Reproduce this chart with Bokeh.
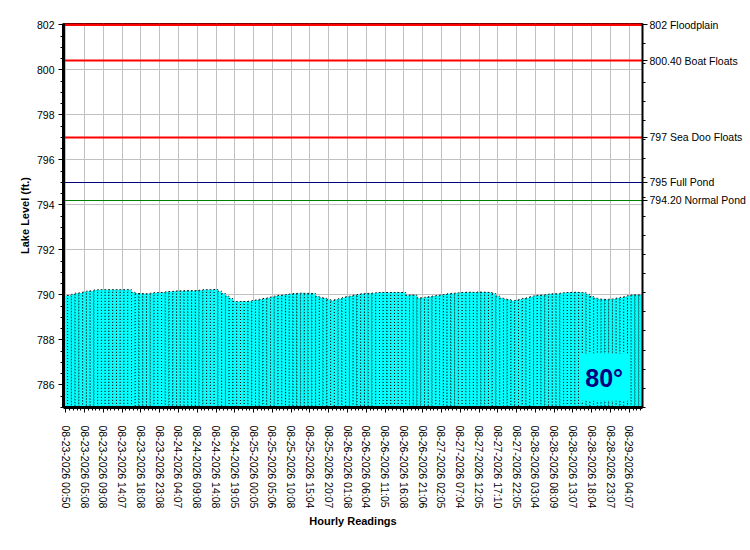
from bokeh.plotting import figure
from bokeh.models import (ColumnDataSource, Range1d, LinearAxis, FixedTicker,
                          BoxAnnotation, Label)
from bokeh.embed import file_html
from bokeh.resources import INLINE

# ---------------- data ----------------
tick_labels = [
    "08-23-2026 00:50", "08-23-2026 05:08", "08-23-2026 09:08", "08-23-2026 14:07",
    "08-23-2026 18:08", "08-23-2026 23:08", "08-24-2026 04:07", "08-24-2026 09:08",
    "08-24-2026 14:08", "08-24-2026 19:05", "08-25-2026 00:05", "08-25-2026 05:06",
    "08-25-2026 10:08", "08-25-2026 15:04", "08-25-2026 20:07", "08-26-2026 01:08",
    "08-26-2026 06:04", "08-26-2026 11:05", "08-26-2026 16:08", "08-26-2026 21:06",
    "08-27-2026 02:05", "08-27-2026 07:04", "08-27-2026 12:05", "08-27-2026 17:10",
    "08-27-2026 22:05", "08-28-2026 03:04", "08-28-2026 08:09", "08-28-2026 13:07",
    "08-28-2026 18:04", "08-28-2026 23:07", "08-29-2026 04:07",
]
label_every = 5

lake_levels = [
    789.97, 789.98, 790.03, 790.08, 790.09, 790.13, 790.17, 790.18, 790.22, 790.23,
    790.23, 790.23, 790.23, 790.23, 790.23, 790.23, 790.23, 790.23, 790.12, 790.06,
    790.06, 790.05, 790.05, 790.08, 790.10, 790.10, 790.11, 790.14, 790.15, 790.16,
    790.18, 790.18, 790.19, 790.19, 790.19, 790.20, 790.21, 790.23, 790.23, 790.23,
    790.24, 790.17, 790.06, 789.95, 789.84, 789.71, 789.70, 789.71, 789.71, 789.72,
    789.75, 789.78, 789.81, 789.84, 789.87, 789.91, 789.95, 789.98, 789.99, 790.02,
    790.04, 790.06, 790.07, 790.08, 790.07, 790.07, 790.06, 789.94, 789.88, 789.85,
    789.79, 789.74, 789.79, 789.83, 789.88, 789.92, 789.95, 789.99, 790.02, 790.05,
    790.07, 790.07, 790.08, 790.10, 790.11, 790.11, 790.11, 790.11, 790.11, 790.11,
    790.11, 789.98, 790.00, 789.99, 789.87, 789.87, 789.90, 789.92, 789.95, 789.97,
    790.00, 790.02, 790.05, 790.07, 790.08, 790.10, 790.11, 790.12, 790.12, 790.11,
    790.13, 790.12, 790.12, 790.11, 790.06, 789.95, 789.86, 789.82, 789.79, 789.74,
    789.76, 789.80, 789.84, 789.87, 789.92, 789.96, 789.98, 789.99, 790.01, 790.04,
    790.05, 790.05, 790.08, 790.10, 790.11, 790.11, 790.12, 790.11, 790.10, 790.03,
    789.93, 789.86, 789.82, 789.81, 789.80, 789.81, 789.82, 789.86, 789.89, 789.92,
    789.97, 790.00, 790.00, 790.00,
]

ref_levels = [802, 800.4, 797, 795, 794.2]
ref_names = ["802 Floodplain", "800.40 Boat Floats", "797 Sea Doo Floats",
             "795 Full Pond", "794.20 Normal Pond"]
temperature = "80°"

y_min, y_max = 785, 802
y_ticks = [786, 788, 790, 792, 794, 796, 798, 800, 802]

# ---------------- figure ----------------
n = len(lake_levels)
idx = list(range(n))

p = figure(width=750, height=550, output_backend="svg", toolbar_location=None,
           x_range=Range1d(-0.6, n - 0.5), y_range=Range1d(y_min, y_max + 0.06),
           min_border_left=63, min_border_right=108, min_border_top=23,
           min_border_bottom=143, background_fill_color="white",
           border_fill_color="white", outline_line_color="black",
           outline_line_width=1)

FONT = "Liberation Sans"

src = ColumnDataSource(dict(x=idx, top=lake_levels))
p.vbar(x="x", top="top", bottom=y_min, width=1.0, source=src,
       fill_color="#00FFFF", line_color="black", line_dash="1 2",
       line_width=1)

line_colors = ["#FF0000", "#FF0000", "#FF0000", "#000080", "#008000"]
line_widths = [3, 2, 2, 1, 1]
lsrc = ColumnDataSource(dict(y=ref_levels, c=line_colors, w=line_widths))
p.hspan(y="y", line_color="c", line_width="w", source=lsrc)

# x axis
xt = [i * label_every for i in range(len(tick_labels))]
p.xaxis.ticker = FixedTicker(ticks=xt, minor_ticks=idx)
p.xaxis.major_label_overrides = {t: lab for t, lab in zip(xt, tick_labels)}
p.xaxis.major_label_orientation = "vertical"
p.xaxis.axis_label = "Hourly Readings"

# y axis
p.yaxis.ticker = FixedTicker(ticks=y_ticks,
                             minor_ticks=[y_min + 0.5 * k for k in range(int((y_max - y_min) * 2) + 1)])
p.yaxis.axis_label = "Lake Level (ft.)"

for ax in (p.xaxis[0], p.yaxis[0]):
    ax.axis_line_color = "black"
    ax.axis_line_width = 3
    ax.major_tick_in = 0
    ax.major_tick_out = 5
    ax.minor_tick_in = 0
    ax.minor_tick_out = 3
    ax.major_tick_line_color = "black"
    ax.minor_tick_line_color = "black"
    ax.major_label_text_font = FONT
    ax.major_label_text_font_size = "10.5px"
    ax.major_label_text_color = "black"
    ax.axis_label_text_font = FONT
    ax.axis_label_text_font_size = "11px"
    ax.axis_label_text_font_style = "bold"
    ax.axis_label_text_color = "black"
    ax.major_label_standoff = 4

p.xaxis.major_label_standoff = 13
p.yaxis.axis_label_standoff = 3
p.xaxis.axis_label_standoff = 4

# right axis with reference levels
raxis = LinearAxis(ticker=FixedTicker(ticks=ref_levels,
                                      minor_ticks=[y_min + 0.85 * k for k in range(21)]),
                   major_label_overrides={v: s for v, s in zip(ref_levels, ref_names)})
raxis.axis_line_color = "black"
raxis.axis_line_width = 2
raxis.major_tick_in = 0
raxis.major_tick_out = 5
raxis.minor_tick_in = 0
raxis.minor_tick_out = 3
raxis.major_label_text_font = FONT
raxis.major_label_text_font_size = "10.5px"
raxis.major_label_text_color = "black"
raxis.major_label_standoff = 2
p.add_layout(raxis, "right")

# grid
p.xgrid.ticker = FixedTicker(ticks=xt)
p.ygrid.ticker = FixedTicker(ticks=y_ticks)
p.grid.grid_line_color = "#C0C0C0"
p.grid.grid_line_width = 1

# temperature box
box = BoxAnnotation(left=136.6, right=149.9, bottom=785.3, top=787.4,
                    fill_color="#00FFFF", fill_alpha=1.0, line_color=None)
p.add_layout(box)
p.add_layout(Label(x=143.3, y=786.3, text=temperature, text_align="center",
                   text_baseline="middle", text_font=FONT, text_font_size="25px",
                   text_font_style="bold", text_color="#000080"))

open("out.html", "w").write(file_html(p, INLINE))
